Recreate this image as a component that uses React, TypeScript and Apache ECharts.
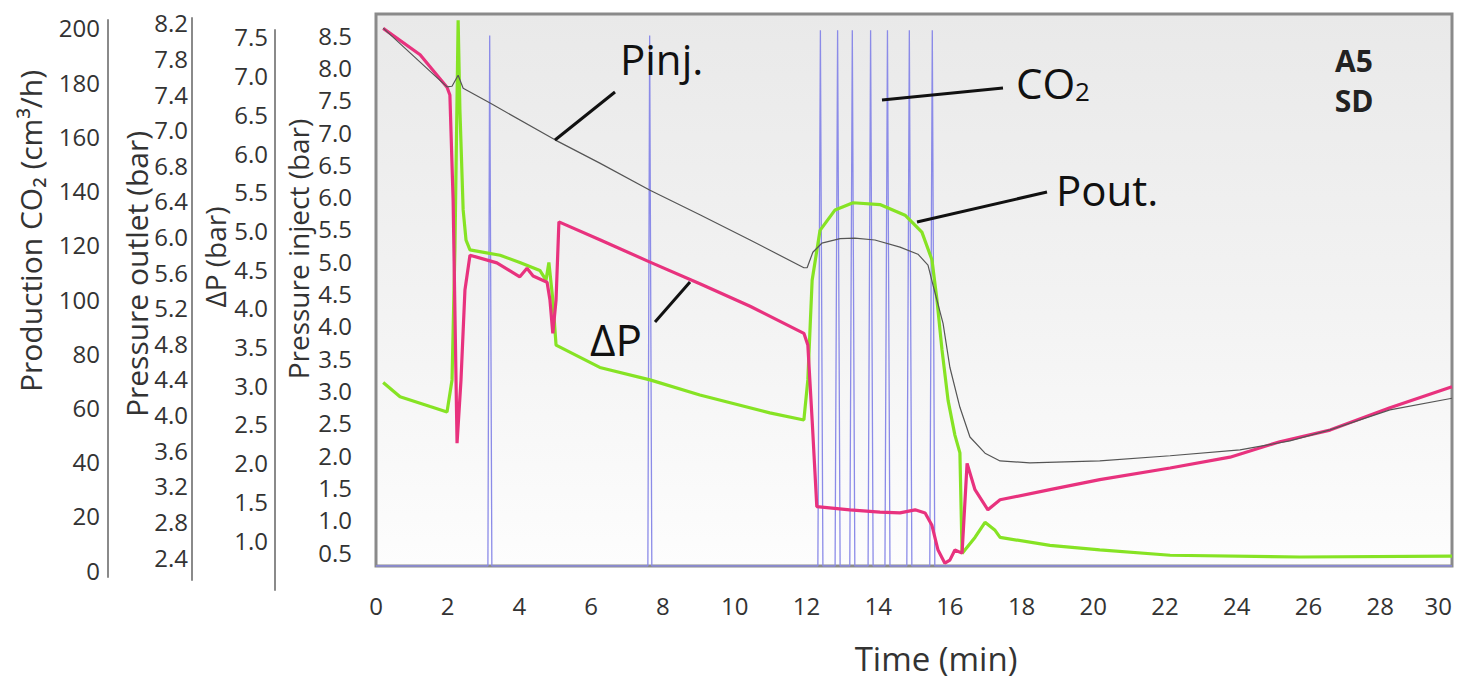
import React, { useEffect, useRef } from 'react';
import * as echarts from 'echarts';

// ---------- tick labels ----------
const X_TICKS = [0, 2, 4, 6, 8, 10, 12, 14, 16, 18, 20, 22, 24, 26, 28, 30];
const INJECT_TICKS = [0.5, 1.0, 1.5, 2.0, 2.5, 3.0, 3.5, 4.0, 4.5, 5.0, 5.5, 6.0, 6.5, 7.0, 7.5, 8.0, 8.5];
const DP_TICKS = [1.0, 1.5, 2.0, 2.5, 3.0, 3.5, 4.0, 4.5, 5.0, 5.5, 6.0, 6.5, 7.0, 7.5];
const OUTLET_TICKS = ['2.4', '2.8', '3.2', '3.6', '4.0', '4.4', '4.8', '5.2', '5.6', '6.0', '6.4', '6.8', '7.0', '7.4', '7.8', '8.2'];
const PROD_TICKS = [0, 20, 40, 60, 80, 100, 120, 140, 160, 180, 200];

// ---------- series: time (min) and values ----------
// Pressure inject (bar)
const PINJ_T = [0.2, 1.98, 2.12, 2.29, 2.43, 3.18, 4.99, 6.24, 7.64, 9.03, 10.43, 11.93, 12.02, 12.18, 12.43, 12.94, 13.35, 13.91, 14.61, 15.11, 15.39, 15.53, 15.81, 16.0, 16.28, 16.56, 16.98, 17.4, 18.23, 20.18, 22.14, 24.09, 25.48, 26.6, 28.27, 30.0];
const PINJ = [8.61, 7.7, 7.71, 7.88, 7.68, 7.45, 6.88, 6.52, 6.1, 5.72, 5.33, 4.9, 4.9, 5.14, 5.28, 5.35, 5.36, 5.33, 5.22, 5.11, 4.94, 4.63, 4.04, 3.36, 2.74, 2.28, 2.03, 1.91, 1.88, 1.91, 1.99, 2.08, 2.22, 2.39, 2.7, 2.88];

// Delta P (bar)
const DP_T = [0.2, 1.23, 1.98, 2.06, 2.15, 2.26, 2.37, 2.48, 2.62, 3.37, 4.01, 4.21, 4.38, 4.77, 4.85, 4.93, 5.02, 5.1, 6.24, 7.64, 9.03, 10.43, 11.93, 12.04, 12.16, 12.29, 13.21, 14.05, 14.61, 15.03, 15.31, 15.5, 15.67, 15.86, 16.0, 16.14, 16.34, 16.48, 16.7, 17.06, 17.4, 18.79, 20.18, 22.14, 23.81, 25.2, 26.6, 28.27, 30.0];
const DP = [7.61, 7.27, 6.85, 6.75, 5.39, 2.25, 3.07, 4.23, 4.68, 4.58, 4.4, 4.51, 4.41, 4.33, 4.1, 3.67, 4.1, 5.11, 4.88, 4.59, 4.31, 4.02, 3.67, 3.52, 2.55, 1.43, 1.39, 1.36, 1.35, 1.39, 1.35, 1.19, 0.87, 0.7, 0.74, 0.87, 0.83, 1.99, 1.65, 1.39, 1.52, 1.65, 1.78, 1.93, 2.07, 2.27, 2.42, 2.71, 2.98];

// Pressure outlet (bar)
const POUT_T = [0.2, 0.67, 1.51, 1.98, 2.12, 2.2, 2.29, 2.34, 2.43, 2.51, 2.62, 3.46, 4.01, 4.57, 4.74, 4.82, 4.93, 5.02, 6.24, 7.64, 9.03, 10.98, 11.93, 12.04, 12.16, 12.38, 12.8, 13.3, 14.05, 14.75, 15.22, 15.5, 15.64, 15.78, 15.95, 16.14, 16.28, 16.34, 16.7, 16.98, 17.26, 17.4, 18.79, 20.18, 22.14, 25.76, 30.0];
const POUT = [4.36, 4.2, 4.09, 4.03, 4.39, 5.85, 8.43, 7.42, 6.3, 5.96, 5.85, 5.79, 5.71, 5.62, 5.51, 5.71, 5.29, 4.78, 4.53, 4.39, 4.22, 4.02, 3.94, 4.39, 5.51, 6.07, 6.3, 6.38, 6.36, 6.24, 6.05, 5.74, 5.29, 4.73, 4.16, 3.77, 3.57, 2.44, 2.62, 2.79, 2.7, 2.62, 2.53, 2.48, 2.42, 2.4, 2.41];

// Production CO2 (cm3/h)
const CO2_T = [0, 3.12, 3.17, 3.23, 7.58, 7.63, 7.69, 12.32, 12.39, 12.46, 12.8, 12.87, 12.94, 13.21, 13.28, 13.35, 13.72, 13.79, 13.86, 14.19, 14.26, 14.33, 14.8, 14.87, 14.94, 15.44, 15.51, 15.58, 30.0];
const CO2 = [0, 0, 197, 0, 0, 197, 0, 0, 199, 0, 0, 199, 0, 0, 199, 0, 0, 199, 0, 0, 199, 0, 0, 199, 0, 0, 199, 0, 0];

const zip = (t: number[], v: number[]) => t.map((x, i) => [x, v[i]]);

const FONT = "'Open Sans', 'Noto Sans', sans-serif";
const TXT = '#333333';

export default function App() {
  const ref = useRef<HTMLDivElement>(null);

  useEffect(() => {
    if (!ref.current) return;
    const chart = echarts.init(ref.current, undefined, { renderer: 'svg' });

    const labelStyle = { color: TXT, fontFamily: FONT, fontSize: 24 };
    const hiddenX = (gridIndex: number) => ({
      type: 'value', gridIndex, show: false, min: 0, max: 1,
    });
    const sideGrid = (left: number, top: number, bottom: number) => ({
      left, width: 1, top, bottom, show: false, containLabel: false, outerBoundsMode: 'none',
    });
    const axisName = (text: string, x: number, y: number, fontSize: number) => ({
      type: 'text', x, y, rotation: Math.PI / 2, z: 10,
      style: { text, fill: TXT, fontFamily: FONT, fontSize, textAlign: 'center', textVerticalAlign: 'middle' },
    });

    const option: any = {
      animation: false,
      backgroundColor: '#ffffff',
      grid: [
        {
          left: 376, right: 7, top: 14, bottom: 116, show: true,
          containLabel: false, outerBoundsMode: 'none',
          borderColor: '#8a8a8a', borderWidth: 3,
          backgroundColor: {
            type: 'linear', x: 0, y: 0, x2: 0, y2: 1,
            colorStops: [
              { offset: 0, color: '#e9e9e9' },
              { offset: 0.5, color: '#f2f2f2' },
              { offset: 1, color: '#fdfdfd' },
            ],
          },
        },
        sideGrid(108, 20, 105),
        sideGrid(192, 18, 102),
        sideGrid(275, 30, 92),
      ],
      xAxis: [
        {
          type: 'value', gridIndex: 0, min: 0, max: 30, interval: 2,
          axisLine: { show: false }, axisTick: { show: false }, splitLine: { show: false },
          axisLabel: { ...labelStyle, margin: 27, customValues: X_TICKS, alignMaxLabel: 'right' },
          name: 'Time (min)', nameLocation: 'middle', nameGap: 76,
          nameTextStyle: { color: TXT, fontFamily: FONT, fontSize: 33, padding: [0, 0, 0, 44] },
        },
        hiddenX(1), hiddenX(2), hiddenX(3),
      ],
      yAxis: [
        // 0: Pressure inject (visible, main grid)
        {
          type: 'value', gridIndex: 0, min: 0.2833, max: 8.828,
          axisLine: { show: false }, axisTick: { show: false }, splitLine: { show: false },
          axisLabel: { ...labelStyle, margin: 24, customValues: INJECT_TICKS, formatter: (v: number) => v.toFixed(1) },
        },
        // 1: Delta P (hidden, main grid)
        { type: 'value', gridIndex: 0, min: 0.664, max: 7.796, show: false, splitLine: { show: false } },
        // 2: Pressure outlet (hidden, main grid)
        { type: 'value', gridIndex: 0, min: 2.299, max: 8.501, show: false, splitLine: { show: false } },
        // 3: Production CO2 (hidden, main grid)
        { type: 'value', gridIndex: 0, min: 0, max: 205, show: false, splitLine: { show: false } },
        // 4: Production CO2 visible axis
        {
          type: 'value', gridIndex: 1, position: 'left', min: -2.58, max: 202.95,
          axisLine: { show: true, lineStyle: { color: '#8a8a8a', width: 2 } },
          axisTick: { show: false }, splitLine: { show: false },
          axisLabel: { ...labelStyle, margin: 8, customValues: PROD_TICKS },
        },
        // 5: Pressure outlet visible axis
        {
          type: 'value', gridIndex: 2, position: 'left', min: -0.646, max: 15.14,
          axisLine: { show: true, lineStyle: { color: '#8a8a8a', width: 2 } },
          axisTick: { show: false }, splitLine: { show: false },
          axisLabel: {
            ...labelStyle, margin: 4,
            customValues: OUTLET_TICKS.map((_, i) => i),
            formatter: (v: number) => OUTLET_TICKS[Math.round(v)] ?? '',
          },
        },
        // 6: Delta P visible axis
        {
          type: 'value', gridIndex: 3, position: 'left', min: 0.354, max: 7.59,
          axisLine: { show: true, lineStyle: { color: '#8a8a8a', width: 2 } },
          axisTick: { show: false }, splitLine: { show: false },
          axisLabel: { ...labelStyle, margin: 7, customValues: DP_TICKS, formatter: (v: number) => v.toFixed(1) },
        },
      ],
      series: [
        {
          name: 'CO2', type: 'line', xAxisIndex: 0, yAxisIndex: 3,
          data: zip(CO2_T, CO2), showSymbol: false,
          lineStyle: { color: '#8b8be8', width: 1.3 }, z: 2,
        },
        {
          name: 'Pout.', type: 'line', xAxisIndex: 0, yAxisIndex: 2,
          data: zip(POUT_T, POUT), showSymbol: false,
          lineStyle: { color: '#86e324', width: 3.2 }, z: 3,
        },
        {
          name: 'ΔP', type: 'line', xAxisIndex: 0, yAxisIndex: 1,
          data: zip(DP_T, DP), showSymbol: false,
          lineStyle: { color: '#e8327e', width: 3.2 }, z: 4,
        },
        {
          name: 'Pinj.', type: 'line', xAxisIndex: 0, yAxisIndex: 0,
          data: zip(PINJ_T, PINJ), showSymbol: false,
          lineStyle: { color: '#555555', width: 1.2 }, z: 5,
        },
      ],
      graphic: [
        // y-axis titles
        axisName('Production CO\u2082 (cm\u00b3/h)', 30, 231, 30),
        axisName('Pressure outlet (bar)', 136, 274, 30),
        axisName('\u0394P (bar)', 215, 257, 28),
        axisName('Pressure inject (bar)', 298, 249, 28),
        // annotations
        { type: 'line', shape: { x1: 555, y1: 140, x2: 615, y2: 92 }, style: { stroke: '#111', lineWidth: 3 }, z: 10 },
        { type: 'line', shape: { x1: 882, y1: 100, x2: 1003, y2: 88 }, style: { stroke: '#111', lineWidth: 3 }, z: 10 },
        { type: 'line', shape: { x1: 917, y1: 222, x2: 1047, y2: 192 }, style: { stroke: '#111', lineWidth: 3 }, z: 10 },
        { type: 'line', shape: { x1: 655, y1: 322, x2: 690, y2: 282 }, style: { stroke: '#111', lineWidth: 3 }, z: 10 },
        { type: 'text', x: 620, y: 58, style: { text: 'Pinj.', fill: '#111', fontFamily: FONT, fontSize: 42, textVerticalAlign: 'middle' }, z: 10 },
        {
          type: 'text', x: 1016, y: 82, z: 10,
          style: {
            text: '{a|CO}{b|2}', fill: '#111', textVerticalAlign: 'middle',
            rich: {
              a: { fontFamily: FONT, fontSize: 42, fill: '#111' },
              b: { fontFamily: FONT, fontSize: 26, fill: '#111', padding: [18, 0, 0, 0] },
            },
          },
        },
        { type: 'text', x: 1056, y: 189, style: { text: 'Pout.', fill: '#111', fontFamily: FONT, fontSize: 42, textVerticalAlign: 'middle' }, z: 10 },
        { type: 'text', x: 590, y: 339, style: { text: '\u0394P', fill: '#111', fontFamily: FONT, fontSize: 44, textVerticalAlign: 'middle' }, z: 10 },
        { type: 'text', x: 1354, y: 60, style: { text: 'A5', fill: '#222', fontFamily: FONT, fontSize: 30, fontWeight: 'bold', textAlign: 'center', textVerticalAlign: 'middle' }, z: 10 },
        { type: 'text', x: 1354, y: 100, style: { text: 'SD', fill: '#222', fontFamily: FONT, fontSize: 30, fontWeight: 'bold', textAlign: 'center', textVerticalAlign: 'middle' }, z: 10 },
      ],
    };

    chart.setOption(option);
    return () => chart.dispose();
  }, []);

  return (
    <div
      ref={ref}
      style={{ position: 'absolute', left: 0, top: 0, width: 1459, height: 682, background: '#fff' }}
    />
  );
}
